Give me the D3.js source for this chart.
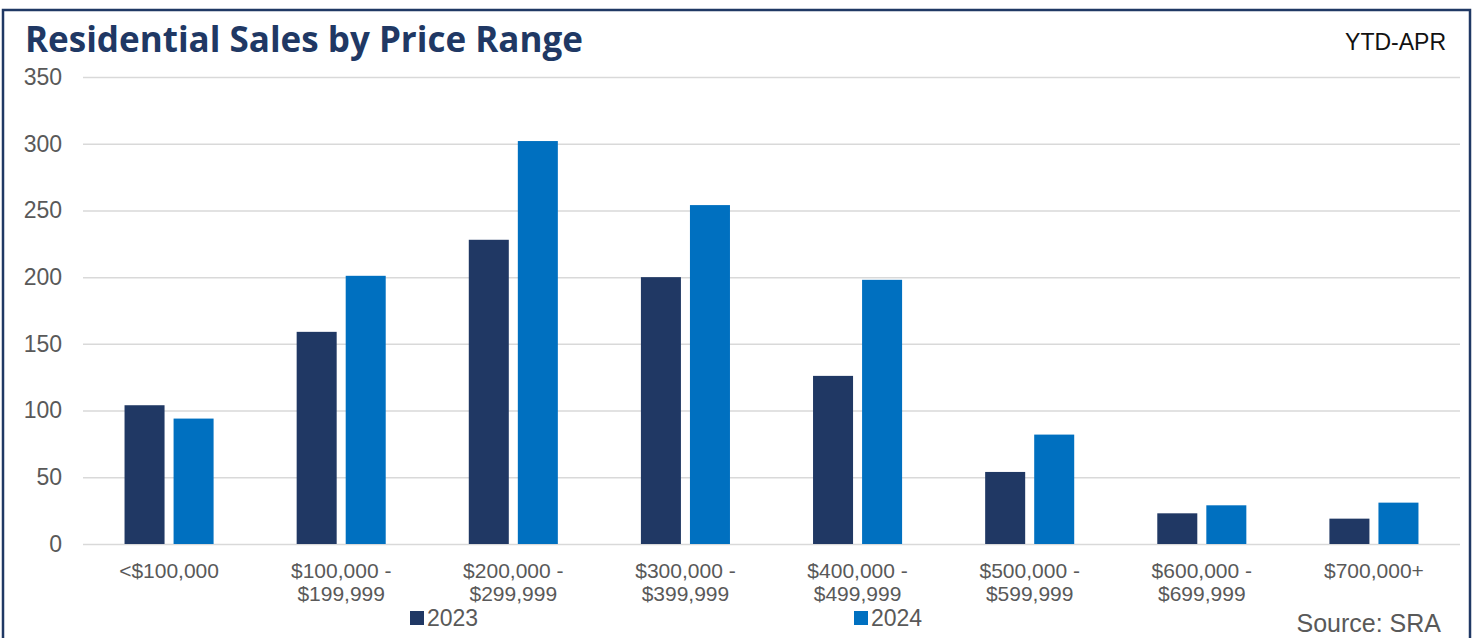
<!DOCTYPE html>
<html>
<head>
<meta charset="utf-8">
<script src="https://cdn.jsdelivr.net/npm/d3@7"></script>
<style>
  body { margin: 0; background: #fff; }
  svg { display: block; }
</style>
</head>
<body>
<div id="chart"></div>
<script>
const categories = [
    ["<$100,000"],
    ["$100,000 -", "$199,999"],
    ["$200,000 -", "$299,999"],
    ["$300,000 -", "$399,999"],
    ["$400,000 -", "$499,999"],
    ["$500,000 -", "$599,999"],
    ["$600,000 -", "$699,999"],
    ["$700,000+"]
];
const seriesNames = ["2023", "2024"];
const sales2023 = [104, 159, 228, 200, 126, 54, 23, 19];
const sales2024 = [94, 201, 302, 254, 198, 82, 29, 31];
const yTicks = [0, 50, 100, 150, 200, 250, 300, 350];

const colors = { "2023": "#203864", "2024": "#0070c0" };
const width = 1478, height = 638;
const labelFont = "'Liberation Sans', Arial, sans-serif";

const svg = d3.select("#chart").append("svg")
    .attr("width", width)
    .attr("height", height);

// outer frame
svg.append("rect")
    .attr("x", 3).attr("y", 10)
    .attr("width", 1467).attr("height", 650)
    .attr("fill", "none")
    .attr("stroke", "#203864")
    .attr("stroke-width", 2.5);

svg.append("text")
    .attr("x", 25).attr("y", 52)
    .attr("font-family", "'Open Sans', sans-serif")
    .attr("font-weight", 700)
    .attr("font-size", 35)
    .attr("fill", "#203864")
    .text("Residential Sales by Price Range");

svg.append("text")
    .attr("x", 1446).attr("y", 50)
    .attr("text-anchor", "end")
    .attr("font-family", labelFont)
    .attr("font-size", 23)
    .attr("fill", "#111")
    .text("YTD-APR");

const plot = { left: 83, right: 1460, top: 77, bottom: 544 };

const x = d3.scaleBand()
    .domain(d3.range(categories.length))
    .range([plot.left, plot.right]);

const xSub = d3.scaleBand()
    .domain(seriesNames)
    .range([0, x.bandwidth()])
    .paddingInner(0.184)
    .paddingOuter(0.847);

const y = d3.scaleLinear()
    .domain([0, 350])
    .range([plot.bottom, plot.top]);

// gridlines + y labels
const yAxis = svg.append("g")
    .attr("transform", `translate(${plot.left},0)`)
    .call(d3.axisLeft(y).tickValues(yTicks).tickSize(-(plot.right - plot.left)).tickPadding(21));
yAxis.select(".domain").remove();
yAxis.selectAll(".tick line")
    .attr("stroke", "#d9d9d9")
    .attr("stroke-width", 1.5);
yAxis.selectAll(".tick text")
    .attr("font-family", labelFont)
    .attr("font-size", 23)
    .attr("fill", "#595959");

// bars
const data = categories.map((c, i) => ({ i, values: [
    { key: "2023", value: sales2023[i] },
    { key: "2024", value: sales2024[i] }
]}));

const groups = svg.append("g").selectAll("g")
    .data(data)
    .join("g")
    .attr("transform", d => `translate(${x(d.i)},0)`);

groups.selectAll("rect")
    .data(d => d.values)
    .join("rect")
    .attr("x", d => xSub(d.key))
    .attr("width", xSub.bandwidth())
    .attr("y", d => y(d.value))
    .attr("height", d => y(0) - y(d.value))
    .attr("fill", d => colors[d.key]);

// x labels
const xLabels = svg.append("g");
categories.forEach((lines, i) => {
    const t = xLabels.append("text")
        .attr("text-anchor", "middle")
        .attr("font-family", labelFont)
        .attr("font-size", 21)
        .attr("fill", "#595959");
    lines.forEach((line, j) => {
        t.append("tspan")
            .attr("x", x(i) + x.bandwidth() / 2)
            .attr("y", 578 + j * 23)
            .text(line);
    });
});

// legend
const legendX = { "2023": 410, "2024": 854 };
seriesNames.forEach(k => {
    svg.append("rect")
        .attr("x", legendX[k]).attr("y", 611)
        .attr("width", 14).attr("height", 14)
        .attr("fill", colors[k]);
    svg.append("text")
        .attr("x", legendX[k] + 17).attr("y", 626)
        .attr("font-family", labelFont)
        .attr("font-size", 23)
        .attr("fill", "#595959")
        .text(k);
});

svg.append("text")
    .attr("x", 1441).attr("y", 632)
    .attr("text-anchor", "end")
    .attr("font-family", labelFont)
    .attr("font-size", 25)
    .attr("fill", "#595959")
    .text("Source: SRA");
</script>
</body>
</html>
